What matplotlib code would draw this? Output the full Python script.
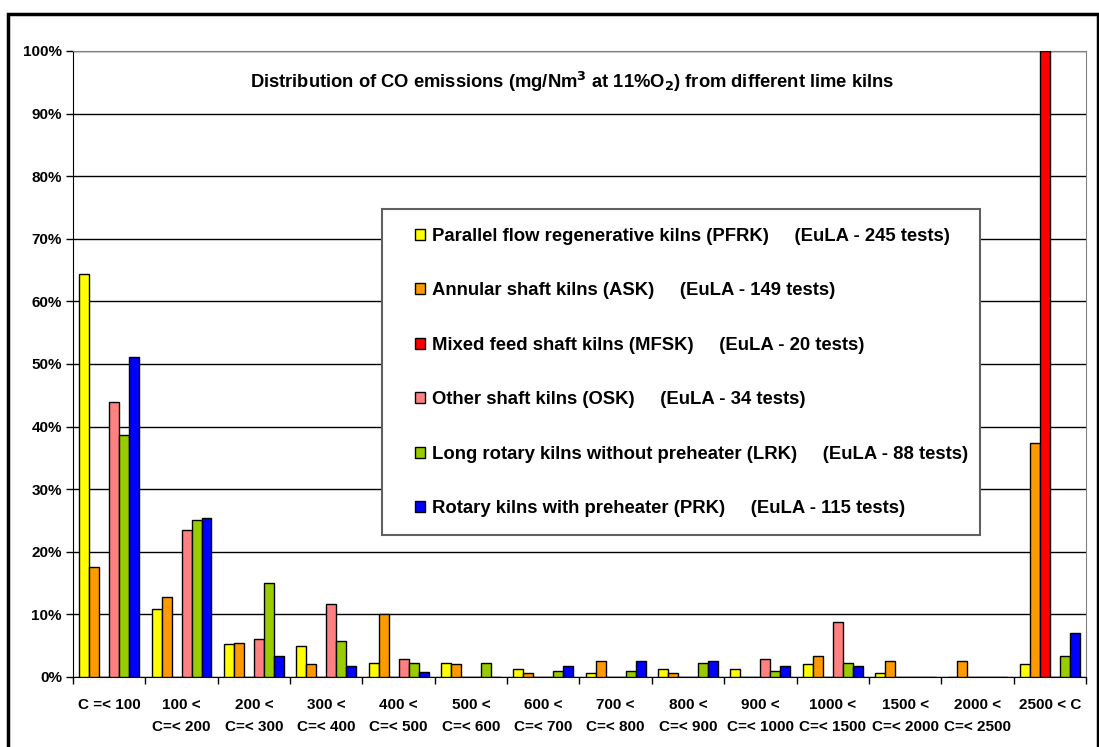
import matplotlib
matplotlib.use("Agg")
import matplotlib.pyplot as plt
import numpy as np
from matplotlib.patches import Rectangle

plt.rcParams['font.family'] = ['Liberation Sans', 'DejaVu Sans']
plt.rcParams['font.weight'] = 'bold'

# CO emission classes (mg/Nm3)
categories = ["C =< 100", "100 <\nC=< 200", "200 <\nC=< 300", "300 <\nC=< 400",
              "400 <\nC=< 500", "500 <\nC=< 600", "600 <\nC=< 700", "700 <\nC=< 800",
              "800 <\nC=< 900", "900 <\nC=< 1000", "1000 <\nC=< 1500",
              "1500 <\nC=< 2000", "2000 <\nC=< 2500", "2500 < C"]

# share of tests in each class, percent
pfrk = [64.4, 10.9, 5.2, 5.0, 2.3, 2.3, 1.3, 0.7, 1.3, 1.3, 2.1, 0.7, 0, 2.1]
ask = [17.5, 12.8, 5.4, 2.1, 10.1, 2.1, 0.7, 2.6, 0.7, 0, 3.4, 2.6, 2.6, 37.4]
mfsk = [0, 0, 0, 0, 0, 0, 0, 0, 0, 0, 0, 0, 0, 100]
osk = [44.0, 23.5, 6.0, 11.7, 2.9, 0, 0, 0, 0, 2.9, 8.8, 0, 0, 0]
lrk = [38.6, 25.1, 15.0, 5.7, 2.3, 2.3, 1.0, 1.0, 2.3, 1.0, 2.3, 0, 0, 3.4]
prk = [51.1, 25.4, 3.4, 1.8, 0.8, 0, 1.8, 2.6, 2.6, 1.8, 1.8, 0, 0, 7.1]

gap = " " * 5
labels = ["Parallel flow regenerative kilns (PFRK)" + gap + "(EuLA - 245 tests)",
          "Annular shaft kilns (ASK)" + gap + "(EuLA - 149 tests)",
          "Mixed feed shaft kilns (MFSK)" + gap + "(EuLA - 20 tests)",
          "Other shaft kilns (OSK)" + gap + "(EuLA - 34 tests)",
          "Long rotary kilns without preheater (LRK)" + gap + "(EuLA - 88 tests)",
          "Rotary kilns with preheater (PRK)" + gap + "(EuLA - 115 tests)"]
colors = ["#FFFF00", "#FF9900", "#FF0000", "#FF8080", "#99CC00", "#0000FF"]
series = [pfrk, ask, mfsk, osk, lrk, prk]

W, H = 1099, 747
fig = plt.figure(figsize=(W / 100, H / 100), dpi=100)
ax = fig.add_axes([73 / W, 1 - 677 / H, (1086 - 73) / W, (677 - 51) / H])

x = np.arange(len(categories))
w = 0.138
handles = []
for i, (vals, c) in enumerate(zip(series, colors)):
    b = ax.bar(x + (i - 2.5) * w, vals, w, color=c, edgecolor='black', linewidth=1, zorder=3)
    handles.append(b)

ax.set_xlim(-0.5, len(categories) - 0.5)
ax.set_ylim(0, 100)
ax.set_yticks(range(0, 101, 10))
ax.set_yticklabels([f"{v}%" for v in range(0, 101, 10)], fontsize=11, fontweight='bold')
ax.yaxis.grid(True, color='black', linewidth=1, zorder=0)
ax.set_axisbelow(True)

ax.set_xticks(np.arange(-0.5, len(categories), 1))
ax.set_xticklabels([])
ax.set_xticks(x, minor=True)
ax.set_xticklabels(categories, minor=True, fontsize=11, fontweight='bold', linespacing=1.75)
ax.tick_params(axis='x', which='minor', length=0, pad=15)
ax.tick_params(axis='x', which='major', length=5, width=1)
ax.tick_params(axis='y', length=5, width=1, pad=3)

for s in ['top', 'right']:
    ax.spines[s].set_color('#808080')
for s in ['left', 'bottom']:
    ax.spines[s].set_color('black')

# outer chart border
fig.patches.append(Rectangle((8 / W, -0.1), (1098 - 8) / W, 1.1 - 14 / H,
                             transform=fig.transFigure, fill=False,
                             edgecolor='black', linewidth=2.5))

# legend box
fig.patches.append(Rectangle((382 / W, 1 - 535 / H), (980 - 382) / W, (535 - 209) / H,
                             transform=fig.transFigure, facecolor='white',
                             edgecolor='#606060', linewidth=1.5, zorder=4))
fig.legend(handles, labels, loc='upper left', bbox_to_anchor=(415 / W, 1 - 228 / H),
           frameon=False, prop={'weight': 'bold', 'size': 13.3},
           labelspacing=2.03, handlelength=0.54, handleheight=0.54,
           handletextpad=0.38, borderpad=0, borderaxespad=0)

fig.text(572 / W, 1 - 82 / H,
         r"Distribution of CO emissions (mg/Nm$^{\mathbf{3}}$ at 11%O$_{\mathbf{2}}$) from different lime kilns",
         ha='center', va='center', fontsize=13.2, fontweight='bold')

fig.savefig("out.png", dpi=100)
